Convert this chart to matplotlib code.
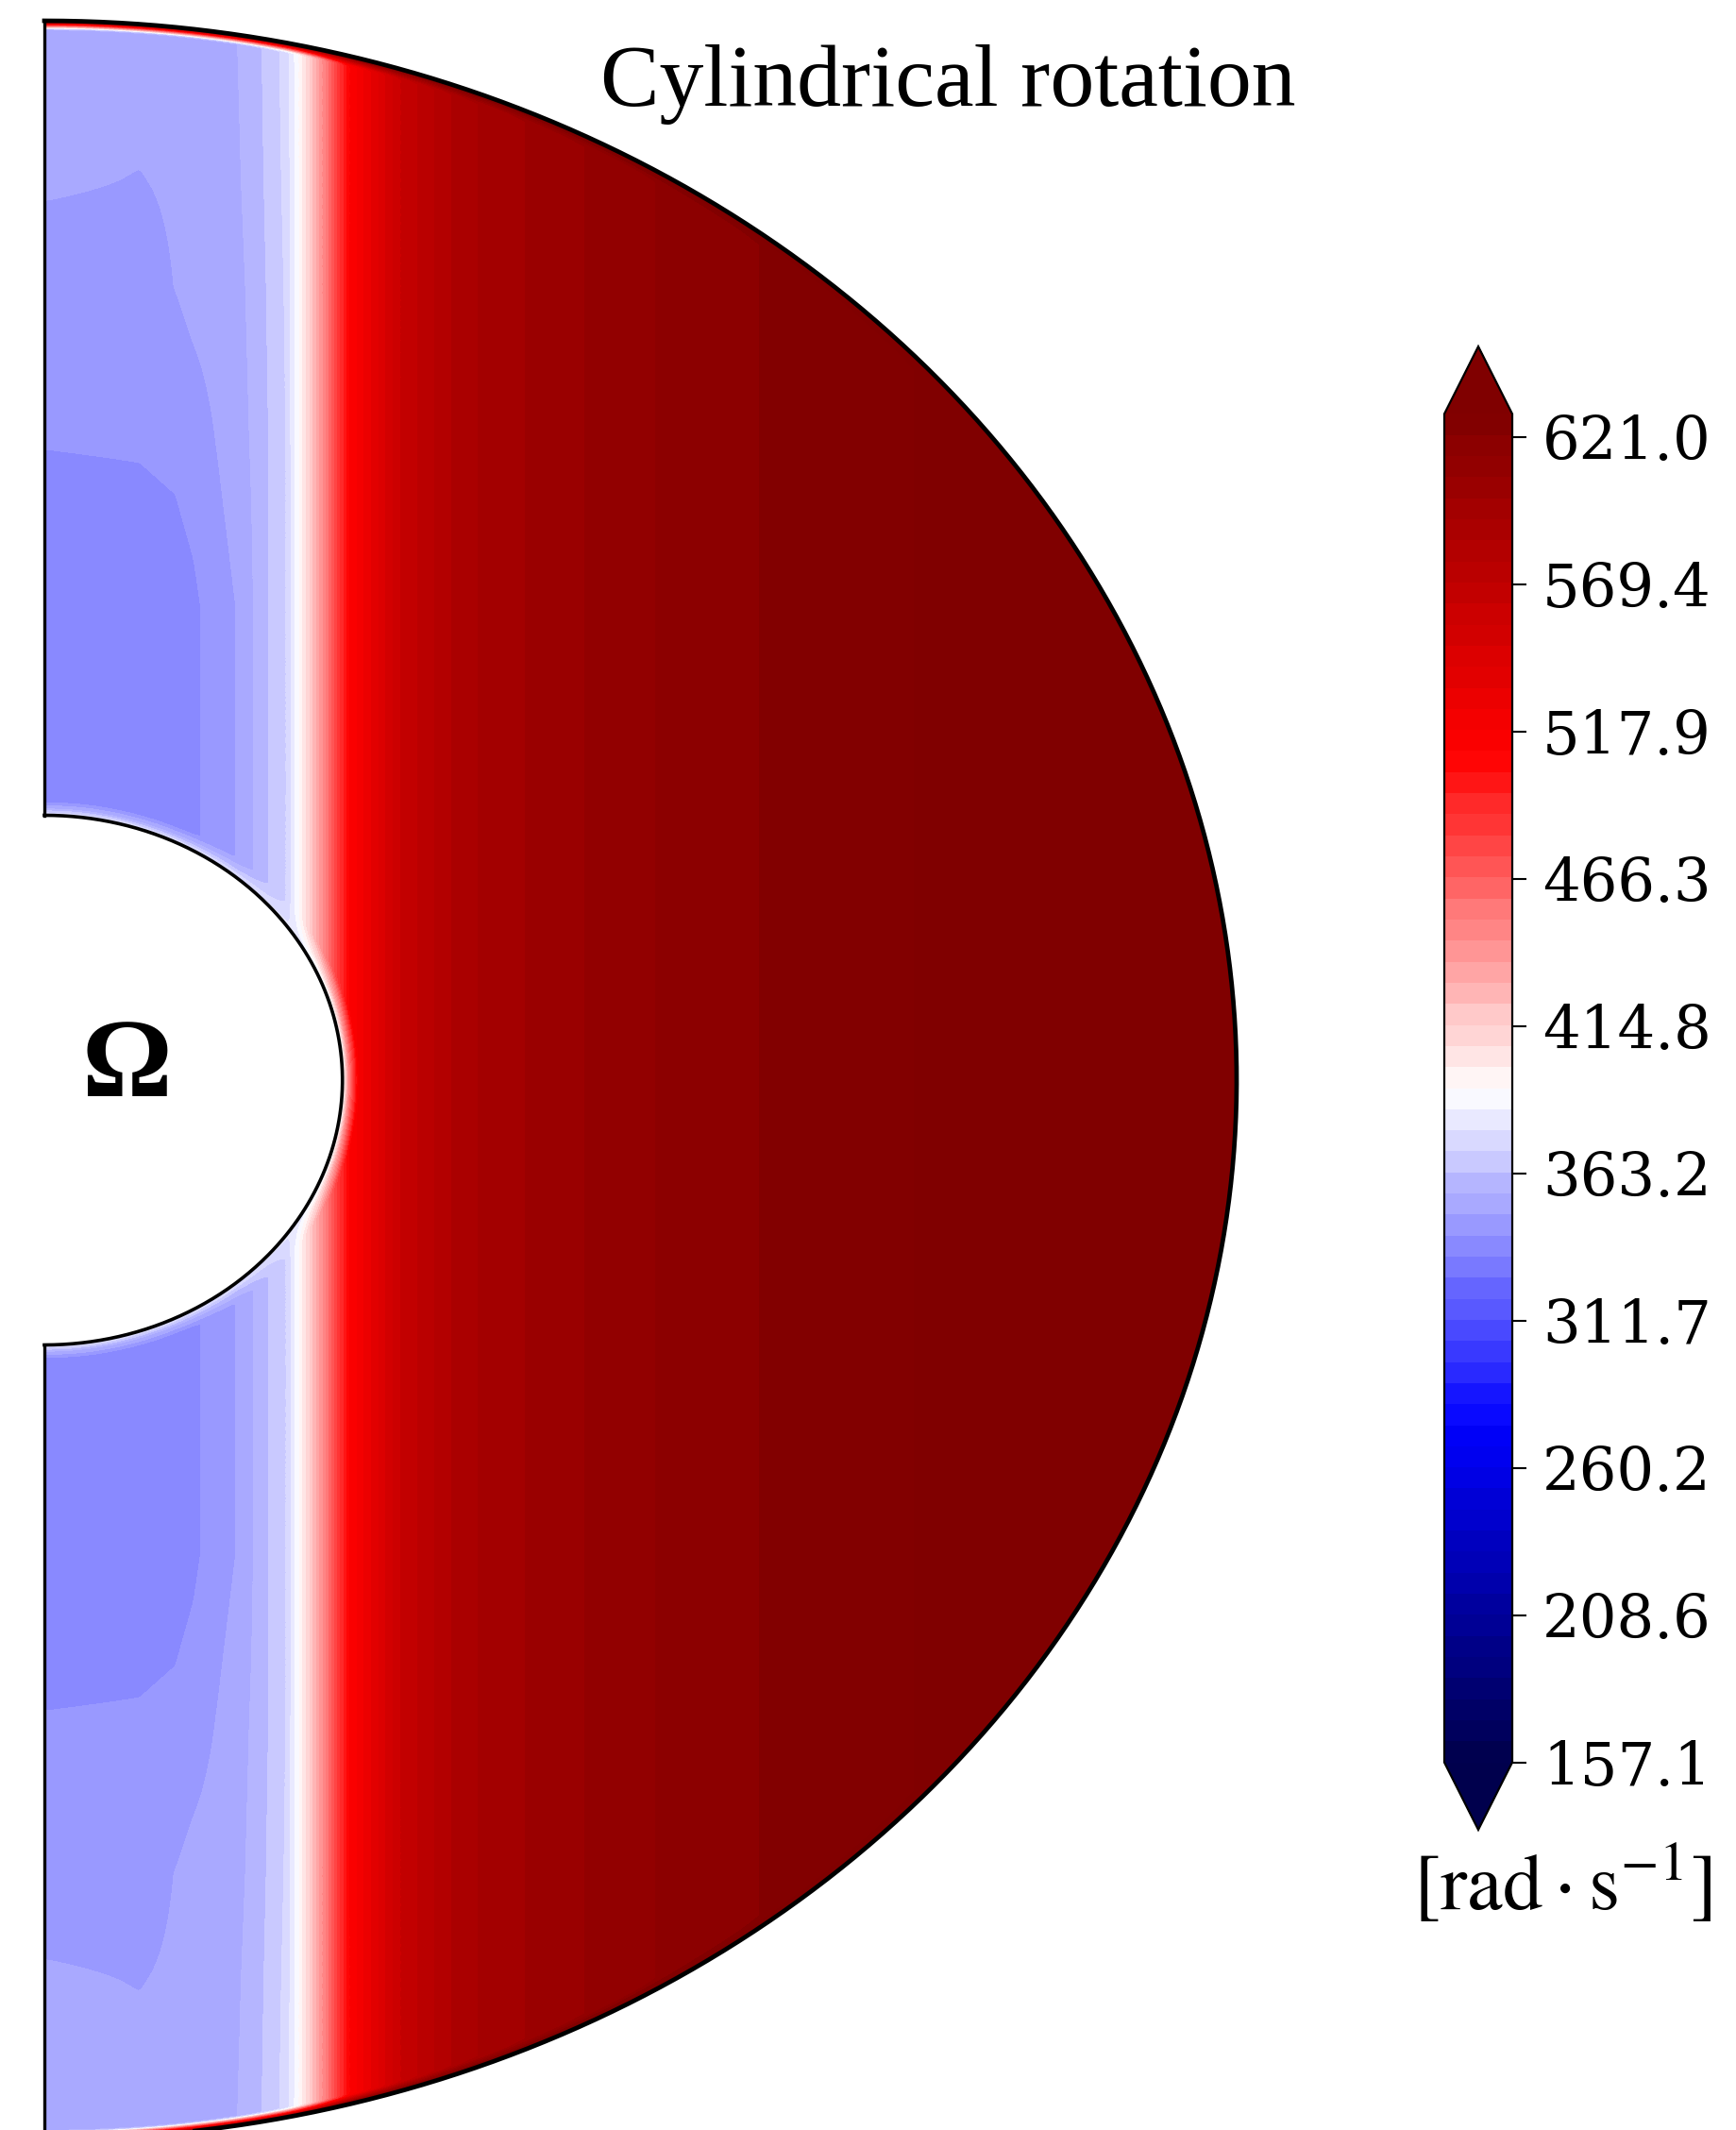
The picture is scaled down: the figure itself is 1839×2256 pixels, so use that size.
import numpy as np
import matplotlib
matplotlib.use('Agg')
import matplotlib.pyplot as plt

plt.rcParams['mathtext.fontset'] = 'stix'

# === ДАННЫЕ ===
# Omega в [rad/s] как таблица по цилиндрическому радиусу s (в долях R) и |z|
s_pts = [0.0, 0.08, 0.11, 0.125, 0.145, 0.161, 0.175, 0.189, 0.203, 0.214,
         0.232, 0.256, 0.298, 0.352, 0.422, 0.54, 0.65, 0.75, 1.0]
z_pts = [0.0, 0.45, 0.60, 0.75, 0.85, 1.0]
om_z000 = [336, 337, 338, 340, 345, 349, 356, 364, 371, 393, 440, 511, 562, 590, 603, 617.6, 625, 630, 640]
om_z045 = [336, 337, 338, 340, 345, 349, 356, 364, 371, 393, 440, 511, 562, 590, 603, 617.6, 625, 630, 640]
om_z060 = [341.6, 342, 343, 345, 349, 353, 357, 364, 371, 393, 440, 511, 562, 590, 603, 617.6, 625, 630, 640]
om_z075 = [344, 345, 349, 351, 352, 354, 358, 365, 372, 393, 440, 511, 562, 590, 603, 617.6, 625, 630, 640]
om_z085 = [350, 348.5, 350, 352, 353, 355, 359, 366, 373, 393, 440, 511, 562, 590, 603, 617.6, 625, 630, 640]
om_z100 = [353, 353, 353, 354, 355, 356, 360, 367, 374, 393, 440, 511, 562, 590, 603, 617.6, 625, 630, 640]
om_table = [om_z000, om_z045, om_z060, om_z075, om_z085, om_z100]

# тонкие пограничные слои у внутренней и внешней сфер
r_in, r_out = 0.25, 1.0
om_inner, om_outer = 380.0, 640.0
bl_dist_in = [0.0, 0.006, 0.014]
bl_dist_out = [0.0, 0.004, 0.008]
bl_frac = [1.0, 0.45, 0.0]

# шкала
cb_min, cb_max = 157.1, 629.0
cb_ticks = [157.1, 208.6, 260.2, 311.7, 363.2, 414.8, 466.3, 517.9, 569.4, 621.0]

# === СЕТКА В МЕРИДИОНАЛЬНОЙ ПЛОСКОСТИ ===
r = np.linspace(r_in, r_out, 500)
th = np.linspace(0, np.pi, 1000)
R, TH = np.meshgrid(r, th)
X = R * np.sin(TH)
Y = R * np.cos(TH)

s_flat = X.ravel()
z_flat = np.abs(Y.ravel())
rows = np.array([np.interp(s_flat, s_pts, row) for row in om_table])
zp = np.array(z_pts)
i = np.clip(np.searchsorted(zp, z_flat) - 1, 0, len(zp) - 2)
w = (z_flat - zp[i]) / (zp[i + 1] - zp[i])
k = np.arange(len(s_flat))
Om = (rows[i, k] * (1 - w) + rows[i + 1, k] * w).reshape(X.shape)

f_in = np.interp(R - r_in, bl_dist_in, bl_frac)
f_out = np.interp(r_out - R, bl_dist_out, bl_frac)
Om = Om * (1 - f_in) + om_inner * f_in
Om = Om * (1 - f_out) + om_outer * f_out

# === ОТРИСОВКА ===
fig = plt.figure(figsize=(18.39, 22.56), dpi=100)
ax = fig.add_axes([47 / 1839, -10 / 2256, 1263 / 1839, 2244 / 2256])

levels = np.linspace(cb_min, cb_max, 65)
cf = ax.contourf(X, Y, Om, levels=levels, cmap='seismic', extend='both')

t = np.linspace(0, np.pi, 400)
ax.plot(r_out * np.sin(t), r_out * np.cos(t), color='k', lw=3.4, clip_on=False)
ax.plot(r_in * np.sin(t), r_in * np.cos(t), color='k', lw=2.6, clip_on=False)
ax.plot([0, 0], [r_in, r_out], color='k', lw=2.4, clip_on=False)
ax.plot([0, 0], [-r_in, -r_out], color='k', lw=2.4, clip_on=False)
ax.set_xlim(0, 1)
ax.set_ylim(-1, 1)
ax.axis('off')

ax.text(0.069, 0.010, 'Ω', fontsize=86, fontfamily='Liberation Serif',
        fontweight='bold', ha='center', va='center')

fig.text(1004 / 1839, 1 - 112 / 2256, 'Cylindrical rotation', fontsize=67.5,
         fontfamily='Liberation Serif', ha='center', va='baseline')

cax = fig.add_axes([1530 / 1839, (2256 - 1938) / 2256, 72 / 1839, (1938 - 367) / 2256])
cb = fig.colorbar(cf, cax=cax, ticks=cb_ticks)
cb.ax.set_yticklabels([f'{v:.1f}' for v in cb_ticks])
cb.ax.tick_params(labelsize=45, length=11, width=1.5, pad=12)
for lab in cb.ax.get_yticklabels():
    lab.set_fontfamily('DejaVu Serif')
cb.outline.set_linewidth(1.6)

fig.text(1655 / 1839, 1 - 1996 / 2256, r'$[\mathrm{rad}\cdot\mathrm{s}^{-1}]$',
         fontsize=61, ha='center', va='center')

fig.savefig('out.png', dpi=100, facecolor='white')
